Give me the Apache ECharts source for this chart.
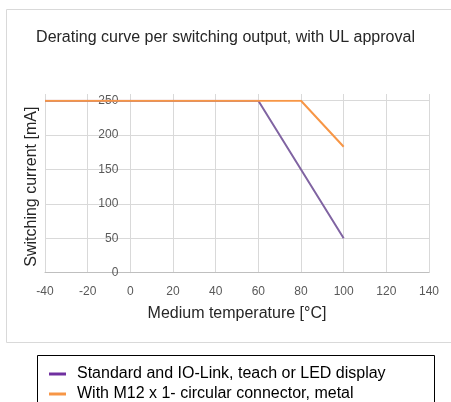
<!DOCTYPE html>
<html>
<head>
<meta charset="utf-8">
<script src="https://cdn.jsdelivr.net/npm/echarts@6/dist/echarts.min.js"></script>
<style>
html,body{margin:0;padding:0;background:#fff;}
#c{width:451px;height:402px;}
</style>
</head>
<body>
<div id="c"></div>
<script>
const titleText = 'Derating curve per switching output, with UL approval';
const xName = 'Medium temperature [°C]';
const yName = 'Switching current [mA]';
const seriesNames = ['Standard and IO-Link, teach or LED display', 'With M12 x 1- circular connector, metal'];
const standardData = [[-40, 250], [60, 250], [100, 50]];
const m12Data = [[-40, 250], [80, 250], [100, 183]];
const xMin = -40, xMax = 140, xStep = 20;
const yMin = 0, yMax = 250, yStep = 50;

const font = 'Liberation Sans, Arial, sans-serif';
const chart = echarts.init(document.getElementById('c'), null, {renderer: 'canvas'});
const gridL = 45, gridR = 22, gridB = 129.3;
const plotW = 451 - gridL - gridR;
const zeroOffset = -plotW * (0 - xMin) / (xMax - xMin);
chart.setOption({
  animation: false,
  title: {
    text: titleText, left: 'center', top: 25,
    textStyle: {fontFamily: font, fontSize: 16, fontWeight: 'normal', color: '#262626'}
  },
  graphic: [
    {type: 'rect', shape: {x: 6.5, y: 9.5, width: 460, height: 333}, style: {fill: 'none', stroke: '#d9d9d9', lineWidth: 1}, silent: true, z: -1},
    {type: 'rect', shape: {x: 37.5, y: 355.5, width: 397, height: 60}, style: {fill: 'none', stroke: '#000', lineWidth: 1}, silent: true, z: -1}
  ],
  grid: [
    {left: gridL, right: gridR, top: 94, bottom: gridB, containLabel: false, outerBoundsMode: 'none'},
    {left: gridL, right: gridR, top: 100.7, bottom: gridB, containLabel: false, outerBoundsMode: 'none'}
  ],
  xAxis: [
    {type: 'value', gridIndex: 0, min: xMin, max: xMax, interval: xStep,
     axisLine: {show: false}, axisTick: {show: false}, axisLabel: {show: false},
     splitLine: {show: true, lineStyle: {color: '#d9d9d9', width: 1}}},
    {type: 'value', gridIndex: 1, min: xMin, max: xMax, interval: xStep,
     name: xName, nameLocation: 'middle', nameGap: 33,
     nameTextStyle: {fontFamily: font, fontSize: 16, color: '#262626'},
     axisLine: {show: true, onZero: false, lineStyle: {color: '#bfbfbf'}}, axisTick: {show: false},
     axisLabel: {fontFamily: font, fontSize: 12, color: '#595959', margin: 13},
     splitLine: {show: false}}
  ],
  yAxis: [
    {type: 'value', gridIndex: 0, min: 0, max: 1, show: false, splitLine: {show: false}},
    {type: 'value', gridIndex: 1, min: yMin, max: yMax, interval: yStep, position: 'left', offset: zeroOffset,
     name: yName, nameLocation: 'middle', nameGap: 91,
     nameTextStyle: {fontFamily: font, fontSize: 16, color: '#262626'},
     axisLine: {show: true, onZero: false, lineStyle: {color: '#d9d9d9'}}, axisTick: {show: false},
     axisLabel: {fontFamily: font, fontSize: 12, color: '#595959', margin: 12},
     splitLine: {show: true, lineStyle: {color: '#d9d9d9', width: 1}}}
  ],
  legend: {
    orient: 'vertical', left: 44, top: 361, height: 80, itemWidth: 17, itemHeight: 3, itemGap: 4,
    icon: 'rect',
    textStyle: {fontFamily: font, fontSize: 16, color: '#000', padding: [0, 0, 0, 6]},
    data: [
      {name: seriesNames[0], itemStyle: {color: '#7030A0'}},
      {name: seriesNames[1], itemStyle: {color: '#F79646'}}
    ]
  },
  series: [
    {name: seriesNames[0], type: 'line', xAxisIndex: 1, yAxisIndex: 1, data: standardData,
     symbol: 'none', lineStyle: {color: '#8064A2', width: 2}, itemStyle: {color: '#8064A2'}},
    {name: seriesNames[1], type: 'line', xAxisIndex: 1, yAxisIndex: 1, data: m12Data,
     symbol: 'none', lineStyle: {color: '#F79646', width: 2}, itemStyle: {color: '#F79646'}}
  ]
});
</script>
</body>
</html>
